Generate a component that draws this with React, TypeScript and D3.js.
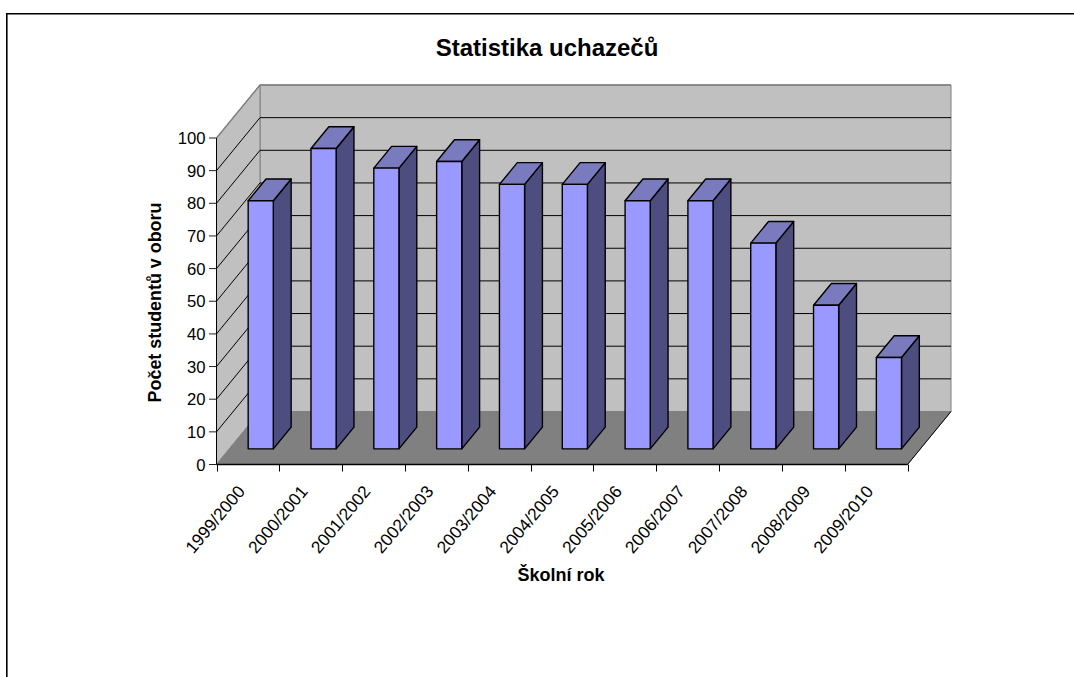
import React, { useEffect, useRef } from "react";
import * as d3 from "d3";

const years = ["1999/2000", "2000/2001", "2001/2002", "2002/2003", "2003/2004", "2004/2005", "2005/2006", "2006/2007", "2007/2008", "2008/2009", "2009/2010"];
const applicants = [76, 92, 86, 88, 81, 81, 76, 76, 63, 44, 28];
const valueTicks = [0, 10, 20, 30, 40, 50, 60, 70, 80, 90, 100];

const width = 1074;
const height = 677;
const font = "'Liberation Sans', Arial, sans-serif";

const App: React.FC = () => {
  const svgRef = useRef<SVGSVGElement | null>(null);

  useEffect(() => {
    if (!svgRef.current) return;
    const svg = d3.select(svgRef.current);
    svg.selectAll("*").remove();

    // Plot box of the front plane, the depth is added with an oblique projection
    const xScale = d3.scaleLinear().domain([0, years.length]).range([216.5, 907.5]);
    const band = d3.scaleBand<string>().domain(years).range([216.5, 907.5]).paddingInner(0.6).paddingOuter(0.3);
    const yScale = d3.scaleLinear().domain([0, 100]).range([464.5, 138]);
    const depthX = d3.scaleLinear().domain([0, 1]).range([0, 43.5]);
    const depthY = d3.scaleLinear().domain([0, 1]).range([0, -53]);

    const pt = (x: number, y: number, z: number): [number, number] => [x + depthX(z), y + depthY(z)];
    const poly = d3.line<[number, number]>().curve(d3.curveLinearClosed);

    const x0 = xScale(0);
    const x1 = xScale(years.length);
    const y0 = yScale(0);
    const y1 = yScale(100);

    // Outer frame
    svg.append("path")
      .attr("d", `M6.8,${height}V13.8H${width}`)
      .attr("fill", "none")
      .attr("stroke", "#000")
      .attr("stroke-width", 1.6);

    // Walls and floor
    svg.append("path")
      .attr("d", poly([pt(x0, y0, 1), pt(x1, y0, 1), pt(x1, y1, 1), pt(x0, y1, 1)]))
      .attr("fill", "#c0c0c0")
      .attr("stroke", "#808080");
    svg.append("path")
      .attr("d", poly([pt(x0, y0, 0), pt(x0, y0, 1), pt(x0, y1, 1), pt(x0, y1, 0)]))
      .attr("fill", "#c0c0c0")
      .attr("stroke", "#808080");
    svg.append("path")
      .attr("d", poly([pt(x0, y0, 0), pt(x1, y0, 0), pt(x1, y0, 1), pt(x0, y0, 1)]))
      .attr("fill", "#808080")
      .attr("stroke", "#808080");

    // Gridlines over the two walls
    const grid = svg.append("g").attr("stroke", "#000").attr("fill", "none");
    valueTicks.filter((d) => d > 0 && d < 100).forEach((d) => {
      const y = yScale(d);
      grid.append("path").attr("d", d3.line()([pt(x0, y, 0), pt(x0, y, 1), pt(x1, y, 1)]));
    });
    svg.append("path")
      .attr("d", d3.line()([pt(x0, y1, 0), pt(x0, y1, 1), pt(x1, y1, 1)]))
      .attr("fill", "none")
      .attr("stroke", "#808080")
      .attr("stroke-width", 1.4);
    svg.append("path")
      .attr("d", d3.line()([pt(x1, y0, 0), pt(x1, y0, 1)]))
      .attr("fill", "none")
      .attr("stroke", "#000");

    // Bars, z from 0.295 to 0.705 of the depth
    const zFront = 0.295;
    const zBack = 0.705;
    const bars = svg.append("g").attr("stroke", "#000").attr("stroke-width", 1.4).attr("stroke-linejoin", "round");
    years.forEach((year, i) => {
      const l = band(year)!;
      const r = l + band.bandwidth();
      const top = yScale(applicants[i]);
      bars.append("path")
        .attr("d", poly([pt(r, y0, zFront), pt(r, y0, zBack), pt(r, top, zBack), pt(r, top, zFront)]))
        .attr("fill", "#4d4d80");
      bars.append("path")
        .attr("d", poly([pt(l, top, zFront), pt(r, top, zFront), pt(r, top, zBack), pt(l, top, zBack)]))
        .attr("fill", "#7a7abf");
      bars.append("path")
        .attr("d", poly([pt(l, y0, zFront), pt(r, y0, zFront), pt(r, top, zFront), pt(l, top, zFront)]))
        .attr("fill", "#9999ff");
    });

    // Value axis
    const yAxis = svg.append("g");
    yAxis.append("line")
      .attr("x1", x0).attr("x2", x0).attr("y1", y1).attr("y2", y0)
      .attr("stroke", "#000");
    yAxis.selectAll("line.tick")
      .data(valueTicks)
      .enter()
      .append("line")
      .attr("class", "tick")
      .attr("x1", x0 - 7.5).attr("x2", x0)
      .attr("y1", (d) => yScale(d)).attr("y2", (d) => yScale(d))
      .attr("stroke", "#222");
    yAxis.selectAll("text")
      .data(valueTicks)
      .enter()
      .append("text")
      .attr("x", x0 - 11)
      .attr("y", (d) => yScale(d))
      .attr("dy", "0.36em")
      .attr("text-anchor", "end")
      .attr("font-family", font)
      .attr("font-size", 16.7)
      .text((d) => d);

    // Category axis
    const xAxis = svg.append("g");
    xAxis.append("line")
      .attr("x1", x0).attr("x2", x1).attr("y1", y0).attr("y2", y0)
      .attr("stroke", "#000")
      .attr("stroke-width", 1.4);
    xAxis.selectAll("line.tick")
      .data(d3.range(years.length + 1))
      .enter()
      .append("line")
      .attr("class", "tick")
      .attr("x1", (d) => Math.round(xScale(d)) + 0.5).attr("x2", (d) => Math.round(xScale(d)) + 0.5)
      .attr("y1", y0).attr("y2", y0 + 7)
      .attr("stroke", "#000");
    xAxis.selectAll("text")
      .data(years)
      .enter()
      .append("text")
      .attr("transform", (d) => `translate(${band(d)! + band.bandwidth() / 2 - 2},${y0 + 27.5}) rotate(-50)`)
      .attr("text-anchor", "end")
      .attr("font-family", font)
      .attr("font-size", 17.3)
      .text((d) => d);

    // Titles
    svg.append("text")
      .attr("x", 547).attr("y", 55.5)
      .attr("text-anchor", "middle")
      .attr("font-family", font).attr("font-size", 24).attr("font-weight", "bold")
      .text("Statistika uchazečů");
    svg.append("text")
      .attr("x", 561).attr("y", 581)
      .attr("text-anchor", "middle")
      .attr("font-family", font).attr("font-size", 18).attr("font-weight", "bold")
      .text("Školní rok");
    svg.append("text")
      .attr("transform", "translate(161,302.5) rotate(-90)")
      .attr("text-anchor", "middle")
      .attr("font-family", font).attr("font-size", 17.9).attr("font-weight", "bold")
      .text("Počet studentů v oboru");
  }, []);

  return <svg ref={svgRef} width={width} height={height} style={{ position: "absolute", left: 0, top: 0, background: "#fff" }} />;
};

export default App;
